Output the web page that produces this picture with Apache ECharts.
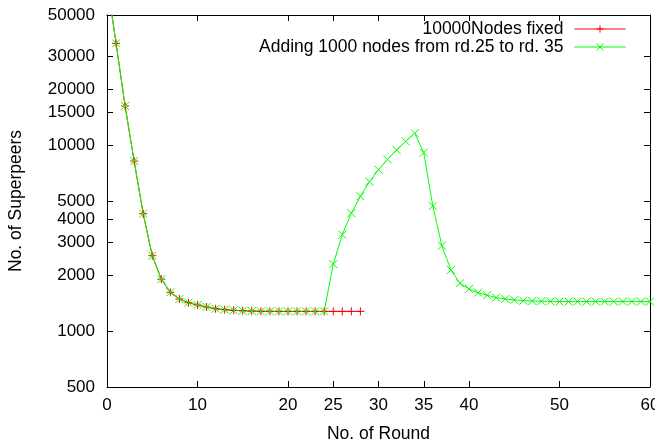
<!DOCTYPE html>
<html>
<head>
<meta charset="utf-8">
<script src="https://cdn.jsdelivr.net/npm/echarts@6/dist/echarts.min.js"></script>
<style>
  html, body { margin: 0; padding: 0; background: #fff; }
  #chart { width: 655px; height: 442px; }
</style>
</head>
<body>
<div id="chart"></div>
<script>
// rounds
var roundsFixed = [0, 1, 2, 3, 4, 5, 6, 7, 8, 9, 10, 11, 12, 13, 14, 15, 16, 17, 18, 19, 20, 21, 22, 23, 24, 25, 26, 27, 28];
var roundsAdding = [0, 1, 2, 3, 4, 5, 6, 7, 8, 9, 10, 11, 12, 13, 14, 15, 16, 17, 18, 19, 20,
  21, 22, 23, 24, 25, 26, 27, 28, 29, 30, 31, 32, 33, 34, 35, 36, 37, 38, 39, 40,
  41, 42, 43, 44, 45, 46, 47, 48, 49, 50, 51, 52, 53, 54, 55, 56, 57, 58, 59, 60];

// superpeer counts
var fixedValues = [76000, 35200, 16200, 8200, 4270, 2540, 1900, 1615, 1486, 1420, 1380, 1346, 1318, 1302, 1292,
  1285, 1280, 1277, 1276, 1275, 1275, 1275, 1275, 1275, 1275, 1275, 1275, 1275, 1275];
var addingValues = [76000, 35200, 16200, 8200, 4270, 2540, 1900, 1615, 1486, 1420, 1380, 1346, 1318, 1302, 1292,
  1285, 1280, 1277, 1276, 1275, 1275, 1275, 1275, 1275, 1275,
  2290, 3296, 4300, 5300, 6350, 7370, 8370, 9400, 10470, 11560,
  9100, 4700, 2875, 2130, 1806, 1684, 1608, 1556, 1511, 1487, 1468, 1456, 1450, 1446, 1443,
  1440, 1440, 1440, 1440, 1440, 1440, 1440, 1440, 1440, 1440, 1440];

// tick labels
var xTicks = [0, 10, 20, 25, 30, 35, 40, 50, 60];
var yTicks = [500, 1000, 2000, 3000, 4000, 5000, 10000, 15000, 20000, 30000, 50000];

var seriesNames = ['10000Nodes fixed', 'Adding 1000 nodes from rd.25 to rd. 35'];

function pairs(xs, ys) {
  return xs.map(function (x, i) { return [x, ys[i]]; });
}

var FONT = 'Liberation Sans, Arial, sans-serif';
var plusSym = 'path://M0,4L8,4M4,0L4,8';
var crossSym = 'path://M0,0L8,8M8,0L0,8';

var chart = echarts.init(document.getElementById('chart'), null, { renderer: 'canvas' });

function xAxisOf(pos, labels) {
  return {
    type: 'value', position: pos, min: 0, max: 60,
    name: labels ? 'No. of Round' : '', nameLocation: 'middle', nameGap: 38,
    nameTextStyle: { fontFamily: FONT, fontSize: 17.5, color: '#000' },
    axisLine: { show: true, onZero: false, lineStyle: { color: '#000', width: 1 } },
    axisTick: { show: true, inside: true, length: 6, customValues: xTicks, lineStyle: { color: '#000' } },
    axisLabel: { show: labels, customValues: xTicks, margin: 10, fontFamily: FONT, fontSize: 17, color: '#000',
      formatter: function (v) { return String(v); } },
    splitLine: { show: false }
  };
}
function yAxisOf(pos, labels) {
  return {
    type: 'log', logBase: 10, position: pos, min: 500, max: 50000,
    name: labels ? 'No. of Superpeers' : '', nameLocation: 'middle', nameGap: 82,
    nameTextStyle: { fontFamily: FONT, fontSize: 17.5, color: '#000' },
    axisLine: { show: true, onZero: false, lineStyle: { color: '#000', width: 1 } },
    axisTick: { show: true, inside: true, length: 6, customValues: yTicks, lineStyle: { color: '#000' } },
    axisLabel: { show: labels, customValues: yTicks, margin: 12, fontFamily: FONT, fontSize: 17, color: '#000',
      formatter: function (v) { return String(Math.round(v)); } },
    splitLine: { show: false }
  };
}

function legendOf(name, top) {
  return {
    data: [name], right: 29, top: top, align: 'right', orient: 'vertical', padding: 0,
    itemWidth: 51, itemHeight: 9,
    lineStyle: { width: 1 },
    itemStyle: { borderWidth: 1 },
    textStyle: { fontFamily: FONT, fontSize: 17.5, color: '#000', padding: [0, 6, 0, 0] }
  };
}

var option = {
  animation: false,
  backgroundColor: '#fff',
  grid: { left: 107, right: 5, top: 15, bottom: 55, containLabel: false, outerBoundsMode: 'none' },
  legend: [legendOf(seriesNames[0], 20), legendOf(seriesNames[1], 38)],
  xAxis: [xAxisOf('bottom', true), xAxisOf('top', false)],
  yAxis: [yAxisOf('left', true), yAxisOf('right', false)],
  series: [
    {
      name: seriesNames[0], type: 'line', xAxisIndex: 0, yAxisIndex: 0,
      data: pairs(roundsFixed, fixedValues),
      symbol: plusSym, symbolSize: 8, showAllSymbol: true, clip: true,
      lineStyle: { color: '#ff0000', width: 1 },
      itemStyle: { color: '#ff0000', borderColor: '#ff0000', borderWidth: 1 }
    },
    {
      name: seriesNames[1], type: 'line', xAxisIndex: 0, yAxisIndex: 0,
      data: pairs(roundsAdding, addingValues),
      symbol: crossSym, symbolSize: 8, showAllSymbol: true, clip: true,
      lineStyle: { color: '#00ff00', width: 1 },
      itemStyle: { color: '#00ff00', borderColor: '#00ff00', borderWidth: 1 }
    }
  ]
};
chart.setOption(option);
</script>
</body>
</html>
